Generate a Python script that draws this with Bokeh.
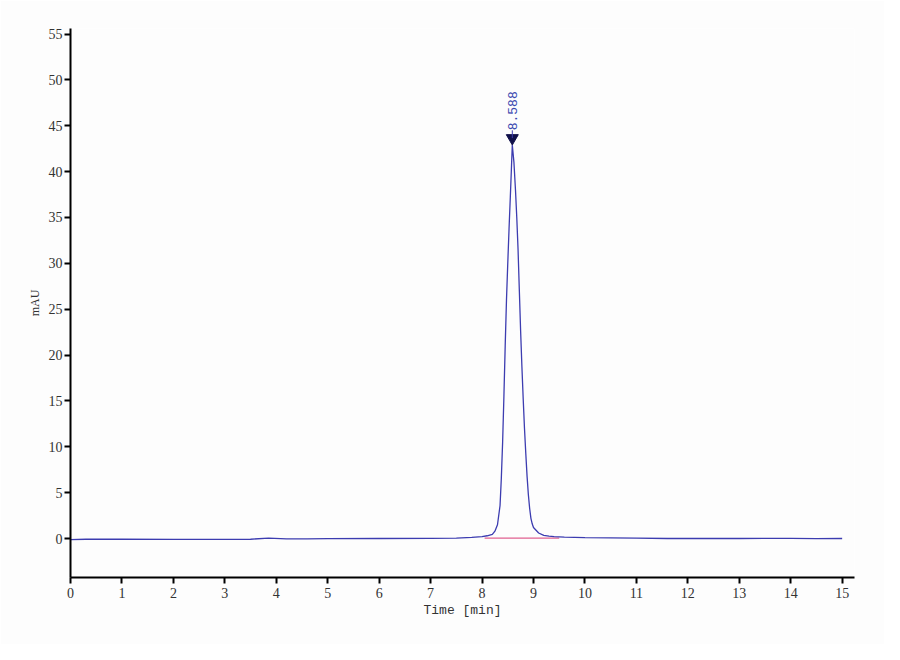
from bokeh.plotting import figure
from bokeh.models import Range1d, FixedTicker, ColumnDataSource
from bokeh.core.properties import value
from bokeh.embed import file_html
from bokeh.resources import INLINE

# Chromatogram trace (time in min, absorbance in mAU)
time_min = [0.0, 0.3, 1.0, 2.0, 3.0, 3.5, 3.85, 4.2, 4.6, 5.0, 6.0, 7.0, 7.5, 7.8,
            8.0, 8.1, 8.2, 8.25, 8.3, 8.35, 8.375, 8.4, 8.425, 8.45, 8.475, 8.5,
            8.525, 8.55, 8.57, 8.588, 8.62, 8.65, 8.675, 8.7, 8.725, 8.75, 8.775,
            8.8, 8.825, 8.85, 8.875, 8.9, 8.925, 8.95, 8.975, 9.0, 9.1, 9.2, 9.3,
            9.4, 9.6, 10.0, 10.5, 11.0, 11.6, 12.0, 13.0, 14.0, 14.5, 15.0]
absorb_mau = [-0.12, -0.08, -0.08, -0.1, -0.1, -0.08, 0.05, -0.05, -0.05, -0.02, 0.0,
              0.02, 0.05, 0.12, 0.2, 0.3, 0.45, 0.8, 1.5, 3.6, 6.6, 10.5, 15.5,
              21.0, 26.0, 30.0, 33.8, 37.3, 40.2, 42.9, 41.0, 38.0, 35.0, 31.5,
              27.0, 22.6, 18.7, 15.2, 12.0, 9.3, 6.8, 4.8, 3.3, 2.2, 1.6, 1.2,
              0.6, 0.35, 0.25, 0.2, 0.15, 0.1, 0.08, 0.05, 0.0, 0.02, 0.0, 0.02,
              -0.02, 0.0]

# Integration baseline
baseline_t = [8.05, 9.5]
baseline_v = [0.05, 0.05]

# Peak annotation
peak_time = [8.588]
peak_height = [42.9]
peak_label = ["8.588"]

x_ticks = list(range(0, 16))
y_ticks = list(range(0, 60, 5))

p = figure(width=884, height=644, output_backend="svg", toolbar_location=None,
           x_range=Range1d(0, 15.24), y_range=Range1d(-4.25, 55.6),
           min_border_left=70, min_border_right=30, min_border_top=28,
           min_border_bottom=67)
p.outline_line_color = None
p.background_fill_color = "#fdfdfd"
p.border_fill_color = "#fdfdfd"
p.grid.visible = False

for ax in (p.xaxis, p.yaxis):
    ax.axis_line_color = "black"
    ax.axis_line_width = 2
    ax.major_tick_line_color = "black"
    ax.major_tick_line_width = 2
    ax.major_tick_in = 0
    ax.major_tick_out = 6
    ax.minor_tick_line_color = None
    ax.major_label_text_font = "Liberation Serif"
    ax.major_label_text_font_size = "14px"
    ax.major_label_text_color = "#333333"
    ax.axis_label_text_font = "Liberation Serif"
    ax.axis_label_text_font_style = "normal"
    ax.axis_label_text_color = "#333333"

p.xaxis.ticker = FixedTicker(ticks=x_ticks)
p.yaxis.ticker = FixedTicker(ticks=y_ticks)
p.xaxis.axis_label = "Time [min]"
p.xaxis.axis_label_text_font = "Liberation Mono"
p.xaxis.axis_label_text_font_size = "13px"
p.xaxis.axis_label_standoff = 2
p.xaxis.major_label_standoff = 4
p.yaxis.axis_label = "mAU"
p.yaxis.axis_label_text_font_size = "12px"
p.yaxis.axis_label_standoff = 4
p.yaxis.major_label_standoff = 2

src = ColumnDataSource(dict(t=time_min, v=absorb_mau))
p.line(baseline_t, baseline_v, line_color="#e06090", line_width=1.2)
p.line("t", "v", source=src, line_color="#3c3cb0", line_width=1.3)

mk = ColumnDataSource(dict(t=peak_time, v=[h + 0.75 for h in peak_height], lab=peak_label,
                           lv=[h + 1.6 for h in peak_height]))
p.scatter("t", "v", source=mk, marker="inverted_triangle", size=12,
          fill_color="#10104a", line_color="#10104a")
p.segment(x0="t", y0="v", x1="t", y1="lv", source=mk, line_color="#3c3cb0", line_width=1)
p.text("t", "lv", text="lab", source=mk, angle=1.5708, text_align="left",
       text_baseline="middle", text_font=value("Liberation Mono"),
       text_font_size="13px", text_color="#3c4ab0")

open("out.html", "w").write(file_html(p, INLINE))
